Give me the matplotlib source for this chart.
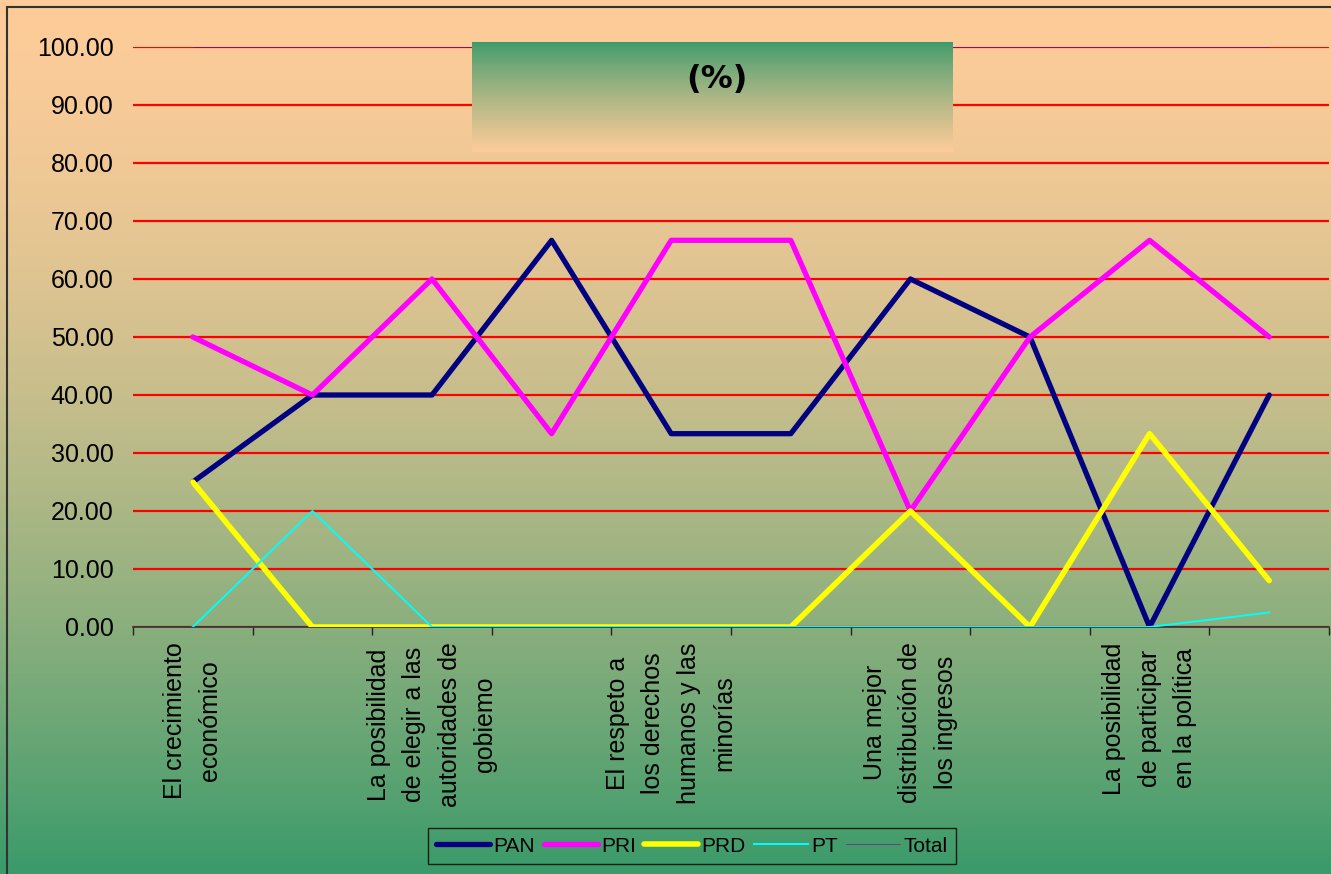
import numpy as np
import matplotlib
matplotlib.use("Agg")
import matplotlib.pyplot as plt
from matplotlib.patches import Rectangle
from matplotlib.ticker import FixedLocator, FuncFormatter

plt.rcParams['font.family'] = ['Liberation Sans', 'DejaVu Sans']

# categories (only every other one carries a visible label in the original)
labels = [
    "El crecimiento\neconómico", "",
    "La posibilidad\nde elegir a las\nautoridades de\ngobiemo", "",
    "El respeto a\nlos derechos\nhumanos y las\nminorías", "",
    "Una mejor\ndistribución de\nlos ingresos", "",
    "La posibilidad\nde participar\nen la política", "",
]

pan = [25.0, 40.0, 40.0, 66.67, 33.33, 33.33, 60.0, 50.0, 0.0, 40.0]
pri = [50.0, 40.0, 60.0, 33.33, 66.67, 66.67, 20.0, 50.0, 66.67, 50.0]
prd = [25.0, 0.0, 0.0, 0.0, 0.0, 0.0, 20.0, 0.0, 33.33, 8.0]
pt = [0.0, 20.0, 0.0, 0.0, 0.0, 0.0, 0.0, 0.0, 0.0, 2.5]
total = [100.0] * 10

W, H = 1331, 874
PEACH = np.array([253, 204, 153]) / 255
GREEN = np.array([58, 154, 106]) / 255


def gradient(top, bottom, n=256, power=1.0):
    f = np.linspace(0, 1, n) ** power
    return (top[None, :] * (1 - f[:, None]) + bottom[None, :] * f[:, None])[:, None, :]


fig = plt.figure(figsize=(W / 100, H / 100), dpi=100)

# background gradient
bg = fig.add_axes([0, 0, 1, 1], zorder=-10)
bg.imshow(gradient(PEACH, GREEN, power=1.6), aspect='auto', extent=[0, 1, 0, 1])
bg.set_xlim(0, 1)
bg.set_ylim(0, 1)
bg.axis('off')
bg.add_patch(Rectangle((7 / W, -0.05), 1.2, 1 - 7 / H + 0.05, fill=False,
                       edgecolor='#333333', lw=1.5, transform=bg.transAxes))

# main plot
ax = fig.add_axes([133 / W, 1 - 627 / H, (1329 - 133) / W, 580 / H])
ax.patch.set_alpha(0)
x = np.arange(len(labels)) + 0.5

style = dict(solid_capstyle='round', solid_joinstyle='round', zorder=3)
ax.plot(x, pan, color='#000080', lw=3.8, label='PAN', **style)
ax.plot(x, pri, color='#FF00FF', lw=3.8, label='PRI', **style)
ax.plot(x, prd, color='#FFFF00', lw=4.0, label='PRD', **style)
ax.plot(x, pt, color='#00FFFF', lw=1.4, label='PT', zorder=3)
ax.plot(x, total, color='#800080', lw=0.4, label='Total', zorder=3)

ax.set_xlim(0, len(labels))
ax.set_ylim(0, 100)
ax.set_yticks(np.arange(0, 101, 10))
ax.yaxis.set_major_formatter(FuncFormatter(lambda v, p: f"{v:.2f}"))
ax.grid(axis='y', color='#FF0000', lw=1.6)
ax.set_axisbelow(True)

ax.xaxis.set_major_locator(FixedLocator(np.arange(len(labels) + 1)))
ax.xaxis.set_minor_locator(FixedLocator(x))
ax.set_xticklabels([])
ax.set_xticklabels(labels, minor=True, rotation=90, fontsize=18, linespacing=1.6,
                   multialignment='center', va='top', ha='center')
ax.tick_params(axis='x', which='major', length=6, width=1, color='#222222')
ax.tick_params(axis='x', which='minor', length=0, pad=11)
ax.tick_params(axis='y', length=0, pad=14, labelsize=18)

for s in ['left', 'right', 'top']:
    ax.spines[s].set_visible(False)
ax.spines['bottom'].set_color('#333333')
ax.spines['bottom'].set_linewidth(1.2)

leg = ax.legend(loc='center', bbox_to_anchor=(692 / W, 1 - 846 / H), bbox_transform=fig.transFigure,
                ncol=5, fontsize=15, frameon=True, fancybox=False, edgecolor='black',
                handlelength=2.6, handletextpad=0.15, columnspacing=0.4, borderpad=0.4,
                borderaxespad=0)
leg.get_frame().set_facecolor('none')

# title box
tax = fig.add_axes([472 / W, 1 - 152 / H, 481 / W, 110 / H], zorder=5)
tax.imshow(gradient(GREEN, PEACH, power=0.8), aspect='auto', extent=[0, 1, 0, 1])
tax.set_xlim(0, 1)
tax.set_ylim(0, 1)
tax.axis('off')
tax.text(0.51, 0.655, "(%)", ha='center', va='center', fontsize=23, fontweight='bold',
         family='DejaVu Sans')

fig.savefig('out.png', dpi=100)
